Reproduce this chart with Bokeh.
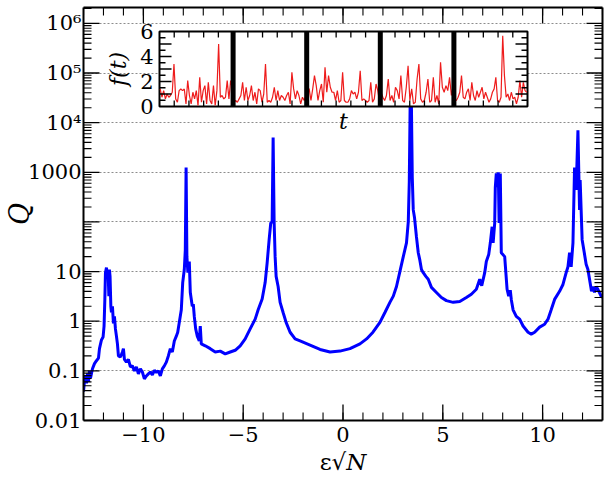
import numpy as np
from bokeh.plotting import figure
from bokeh.models import (Range1d, LinearScale, FixedTicker, LinearAxis, LogAxis,
                          CustomJSTickFormatter)
from bokeh.core.properties import value
from bokeh.embed import file_html
from bokeh.resources import INLINE

# ---------------- data ----------------
eps_sqrtN = [
    -13.0, -12.95, -12.9, -12.85, -12.8, -12.75, -12.7, -12.65, -12.55, -12.45,
    -12.35, -12.25, -12.2, -12.1, -12.02, -11.97, -11.93, -11.9, -11.85, -11.8,
    -11.77, -11.73, -11.7, -11.67, -11.63, -11.6, -11.55, -11.5, -11.45, -11.4,
    -11.35, -11.3, -11.25, -11.15, -11.05, -11.0, -10.95, -10.85, -10.75, -10.65,
    -10.55, -10.45, -10.35, -10.25, -10.15, -10.05, -9.95, -9.85, -9.75, -9.65,
    -9.55, -9.45, -9.35, -9.25, -9.15, -9.05, -8.95, -8.85, -8.75, -8.65,
    -8.55, -8.45, -8.35, -8.28, -8.2, -8.1, -8.03, -7.95, -7.9, -7.86,
    -7.82, -7.77, -7.7, -7.65, -7.55, -7.5, -7.45, -7.38, -7.3, -7.2,
    -7.15, -7.1, -6.9, -6.65, -6.4, -6.15, -5.9, -5.65, -5.4, -5.15,
    -4.9, -4.65, -4.4, -4.25, -4.05, -3.9, -3.8, -3.7, -3.62, -3.55,
    -3.5, -3.45, -3.4, -3.35, -3.25, -3.15, -3.0, -2.85, -2.65, -2.4,
    -2.15, -1.65, -1.15, -0.65, -0.15, 0.35, 0.85, 1.18, 1.5, 1.85,
    2.1, 2.35, 2.52, 2.68, 2.85, 3.02, 3.18, 3.27, 3.32, 3.37,
    3.42, 3.47, 3.52, 3.58, 3.68, 3.77, 3.85, 3.93, 4.02, 4.15,
    4.27, 4.43, 4.68, 4.93, 5.18, 5.52, 5.85, 6.18, 6.43, 6.68,
    6.85, 6.95, 7.1, 7.18, 7.3, 7.38, 7.47, 7.52, 7.6, 7.63,
    7.68, 7.73, 7.78, 7.82, 7.88, 7.93, 8.1, 8.22, 8.3, 8.38,
    8.43, 8.52, 8.68, 8.85, 9.02, 9.27, 9.43, 9.6, 9.85, 10.1,
    10.27, 10.43, 10.6, 10.85, 11.02, 11.18, 11.27, 11.35, 11.43, 11.52,
    11.6, 11.68, 11.77, 11.85, 11.88, 11.98, 12.08, 12.18, 12.27, 12.35,
    12.45, 12.52, 12.6, 12.68, 12.77, 12.93, 13.0,
]
Q = [
    0.038, 0.063, 0.079, 0.056, 0.089, 0.06, 0.1, 0.071, 0.11, 0.14,
    0.16, 0.18, 0.28, 0.42, 0.48, 0.8, 2.8, 9.5, 12, 8,
    11, 3.2, 11, 8, 2, 1.5, 2, 0.9, 1.25, 0.7,
    0.5, 0.35, 0.2, 0.19, 0.24, 0.28, 0.17, 0.15, 0.17, 0.12,
    0.126, 0.1, 0.12, 0.087, 0.11, 0.095, 0.069, 0.079, 0.087, 0.095,
    0.083, 0.102, 0.093, 0.1, 0.079, 0.11, 0.126, 0.15, 0.2, 0.28,
    0.24, 0.4, 0.5, 0.6, 0.95, 1.7, 6, 11, 27, 1250,
    20, 9.5, 16, 3.8, 2, 2.2, 1.25, 0.7, 0.5, 0.4,
    0.8, 0.35, 0.32, 0.28, 0.24, 0.25, 0.22, 0.24, 0.26, 0.32,
    0.44, 0.7, 1.1, 1.7, 2.8, 6, 15, 44, 95, 100,
    5000, 100, 20, 8, 5, 2.4, 1.5, 0.95, 0.6, 0.44,
    0.4, 0.33, 0.27, 0.24, 0.25, 0.28, 0.35, 0.44, 0.6, 0.95,
    1.5, 2.4, 3.2, 5, 10, 20, 38, 100, 630, 40000,
    40000, 800, 175, 125, 50, 24, 17, 11, 9.5, 8,
    7, 4.8, 3.8, 3, 2.6, 2.4, 2.5, 3, 3.5, 4.4,
    7, 5.2, 9.5, 16, 22, 38, 80, 38, 95, 500,
    950, 500, 1000, 95, 950, 24, 20, 4.4, 3.2, 4.2,
    2.75, 1.7, 1.25, 1.1, 0.8, 0.6, 0.55, 0.6, 0.76, 0.87,
    1.1, 1.7, 2.75, 4, 5.5, 9.5, 12.5, 24, 12.5, 38,
    1250, 440, 7000, 175, 700, 44, 25, 14, 11, 7,
    4, 5, 3.8, 5, 4.4, 3.2, 3,
]

x_ticks = [-10, -5, 0, 5, 10]
x_tick_labels = ["\u221210", "\u22125", "0", "5", "10"]
x_minor_ticks = list(range(-13, 14))
y_ticks = [1e-2, 1e-1, 1e0, 1e1, 1e2, 1e3, 1e4, 1e5, 1e6]
y_tick_labels = ["0.01", "0.1", "1", "10", "", "1000", "10\u2074", "10\u2075", "10\u2076"]

# inset f(t): five segments separated by thick bars
f_seg1 = [1.4, 0.74, 1.27, 0.61, 1.0, 0.74, 0.88, 1.14, 3.4, 0.61, 0.34, 1.27, 1.4, 1.27, 1.4,
          0.21, 2.07, 0.88, 0.21, 1.14, 0.61, 1.27, 0.08, 2.33, 0.34, 1.27, 1.67, 0.21, 1.94,
          0.48, 0.21, 1.67, 0.08, 1.27, 5.0, 0.74, 0.88, 0.61, 0.74, 2.07, 0.61, 2.07, 1.54]
f_seg2 = [0.34, 0.48, 0.34, 0.61, 0.88, 1.94, 0.48, 1.54, 0.48, 0.88, 1.67, 0.48, 1.14, 0.21,
          1.41, 1.27, 0.34, 1.0, 3.4, 0.34, 0.48, 0.34, 0.74, 1.54, 0.48, 1.27, 0.48, 0.88,
          0.74, 0.48, 0.88, 1.14, 0.21, 2.73, 1.41, 0.61, 1.27, 0.88, 0.21, 0.74, 0.48, 0.88]
f_seg3 = [1.41, 1.41, 0.48, 1.41, 2.47, 1.67, 0.48, 1.27, 1.8, 0.34, 3.13, 1.14, 2.47, 1.54,
          1.14, 1.14, 0.48, 1.27, 0.34, 0.48, 2.73, 0.48, 0.34, 0.34, 0.61, 1.27, 1.0, 1.14,
          0.61, 1.14, 2.86, 0.48, 0.61, 0.48, 0.34, 0.48, 1.94, 0.34, 0.61, 1.8, 1.27, 0.34]
f_seg4 = [1.14, 0.74, 0.48, 0.88, 2.2, 0.48, 0.88, 0.34, 1.54, 1.27, 0.61, 2.47, 0.48, 0.34,
          1.54, 3.26, 0.48, 1.41, 0.21, 0.34, 2.2, 3.4, 0.61, 0.34, 0.48, 1.14, 2.2, 0.34,
          0.48, 2.33, 0.34, 0.88, 0.21, 3.53, 1.54, 1.14, 1.67, 1.27, 2.33, 0.88, 1.67]
f_seg5 = [0.61, 0.48, 0.74, 1.14, 2.47, 0.74, 0.61, 1.14, 1.41, 0.48, 1.94, 0.88, 0.48, 1.27,
          0.74, 1.14, 1.54, 0.61, 1.14, 0.74, 0.34, 0.61, 1.14, 1.41, 2.33, 0.48, 0.34, 0.74,
          5.65, 2.47, 0.74, 1.0, 0.48, 1.14, 0.61, 0.74, 0.21, 0.74, 2.07, 0.74, 1.94, 1.27, 1.14]
inset_y_ticks = [0, 2, 4, 6]
inset_y_labels = ["0", "2", "4", "6"]

assert len(eps_sqrtN) == len(Q)

# ---------------- layout constants (canvas pixels) ----------------
FONT = "DejaVu Serif"
W, H = 607, 477
FL, FR, FT, FB = 83, 602, 7, 420          # frame edges
IL, IR, IT, IB = 159, 527, 31, 106        # inset box
N_SEG = 5
F_MAX = 6
X0, X1 = -13, 13
Y0, Y1 = 1e-2, 10 ** 6.32
MAJ, MIN = 16, 8                          # tick lengths (px)

p = figure(width=W, height=H, x_range=Range1d(X0, X1),
           y_range=Range1d(Y0, Y1), y_axis_type="log",
           output_backend="svg", toolbar_location=None,
           min_border_left=FL, min_border_right=W - FR,
           min_border_top=FT, min_border_bottom=H - FB)
p.outline_line_color = None
p.background_fill_color = "white"
p.border_fill_color = "white"

xticker = FixedTicker(ticks=x_ticks, minor_ticks=x_minor_ticks)
yminor = [k * 10.0 ** n for n in range(-2, 7) for k in range(2, 10)]
yticker = FixedTicker(ticks=y_ticks, minor_ticks=yminor)
blank = CustomJSTickFormatter(code="return ''")


def style(ax, ticker):
    ax.ticker = ticker
    ax.axis_line_width = 2
    ax.axis_line_color = "black"
    ax.major_tick_in = 0
    ax.major_tick_out = 0
    ax.minor_tick_in = 0
    ax.minor_tick_out = 0
    ax.major_label_text_font = FONT
    ax.major_label_text_font_size = "21px"
    ax.major_label_text_color = "black"
    ax.major_label_standoff = 6
    ax.axis_label_text_color = "black"


xa = p.xaxis[0]
style(xa, xticker)
xa.major_label_overrides = dict(zip(x_ticks, x_tick_labels))
xa.axis_label = "\u03b5\u221a\U0001D441"
xa.axis_label_text_font = FONT
xa.axis_label_text_font_style = "normal"
xa.axis_label_text_font_size = "23px"
xa.axis_label_standoff = 4

ya = p.yaxis[0]
style(ya, yticker)
ya.major_label_standoff = 2
ya.major_label_overrides = dict(zip(y_ticks, y_tick_labels))
ya.axis_label = "Q"
ya.axis_label_text_font = FONT
ya.axis_label_text_font_style = "italic"
ya.axis_label_text_font_size = "27px"
ya.axis_label_standoff = -10

top_ax = LinearAxis(formatter=blank)
style(top_ax, xticker)
top_ax.major_label_standoff = 0
p.add_layout(top_ax, "above")
right_ax = LogAxis(formatter=blank)
style(right_ax, yticker)
right_ax.major_label_standoff = 0
p.add_layout(right_ax, "right")

p.xgrid.visible = False
p.ygrid.ticker = yticker
p.ygrid.grid_line_color = "#8c8c8c"
p.ygrid.grid_line_dash = "2 2"
p.ygrid.grid_line_width = 1

# main curve
p.line(eps_sqrtN, Q, line_color="#0000ff", line_width=3)

# inward ticks of the main frame, as short segments from the frame edges
dx_px = (X1 - X0) / (FR - FL)
dec_px = (np.log10(Y1) - np.log10(Y0)) / (FB - FT)


def xticks_seg(xs, L, lw):
    n = len(xs)
    f = 10 ** (L * dec_px)
    p.segment(x0=xs, y0=[Y0] * n, x1=xs, y1=[Y0 * f] * n, line_color="black", line_width=lw)
    p.segment(x0=xs, y0=[Y1] * n, x1=xs, y1=[Y1 / f] * n, line_color="black", line_width=lw)


def yticks_seg(ys, L, lw):
    n = len(ys)
    d = L * dx_px
    p.segment(x0=[X0] * n, y0=ys, x1=[X0 + d] * n, y1=ys, line_color="black", line_width=lw)
    p.segment(x0=[X1] * n, y0=ys, x1=[X1 - d] * n, y1=ys, line_color="black", line_width=lw)


xticks_seg(x_minor_ticks, MIN, 1.1)
xticks_seg(x_ticks, MAJ, 1.3)
yticks_seg([t for t in yminor if Y0 <= t <= Y1], MIN, 1.1)
yticks_seg([t for t in y_ticks if Y0 <= t <= Y1], MAJ, 1.3)

# ---------------- inset ----------------
tpx = (IR - IL) / N_SEG
vpx = (IB - IT) / F_MAX
p.extra_x_ranges = {"ix": Range1d(-(IL - FL) / tpx, N_SEG + (FR - IR) / tpx)}
p.extra_y_ranges = {"iy": Range1d(-(FB - IB) / vpx, F_MAX + (IT - FT) / vpx)}
p.extra_x_scales = {"ix": LinearScale()}
p.extra_y_scales = {"iy": LinearScale()}
kw = dict(x_range_name="ix", y_range_name="iy")

p.quad(left=[0], right=[N_SEG], bottom=[0], top=[F_MAX], fill_color="white",
       line_color="black", line_width=2, **kw)

segs = [f_seg1, f_seg2, f_seg3, f_seg4, f_seg5]
ts, fs = [], []
for k, seg in enumerate(segs):
    ts.extend(k + np.linspace(0.01, 0.99, len(seg)))
    fs.extend(seg)
p.line(ts, fs, line_color="#ee1c1c", line_width=1.2, **kw)

bars = list(range(1, N_SEG))
p.segment(x0=bars, y0=[0] * len(bars), x1=bars, y1=[F_MAX] * len(bars),
          line_color="black", line_width=5, **kw)

vt = [0.5 * i for i in range(1, 12)]
vl = [12 if i % 2 == 0 else 6 for i in range(1, 12)]
p.ray(x=[0] * len(vt), y=vt, length=vl, angle=0, length_units="screen",
      line_color="black", line_width=1.3, **kw)
p.ray(x=[N_SEG] * len(vt), y=vt, length=vl, angle=np.pi, length_units="screen",
      line_color="black", line_width=1.3, **kw)
ht = [k + 0.2 * j for k in range(N_SEG) for j in range(1, 5)]
p.ray(x=ht, y=[0] * len(ht), length=6, angle=np.pi / 2, length_units="screen",
      line_color="black", line_width=1.3, **kw)
p.ray(x=ht, y=[F_MAX] * len(ht), length=6, angle=-np.pi / 2, length_units="screen",
      line_color="black", line_width=1.3, **kw)

p.text(x=[0] * len(inset_y_ticks), y=inset_y_ticks, text=inset_y_labels, x_offset=-6,
       text_align="right", text_baseline="middle", text_font=value(FONT),
       text_font_size="21px", text_color="black", **kw)
p.text(x=[0], y=[F_MAX / 2], text=["f(t)"], x_offset=-41, angle=np.pi / 2,
       text_align="center", text_baseline="middle", text_font=value(FONT),
       text_font_style="italic", text_font_size="22px", text_color="black", **kw)
p.text(x=[N_SEG / 2], y=[0], text=["t"], y_offset=15,
       text_align="center", text_baseline="middle", text_font=value(FONT),
       text_font_style="italic", text_font_size="22px", text_color="black", **kw)

open("out.html", "w").write(file_html(p, INLINE))
